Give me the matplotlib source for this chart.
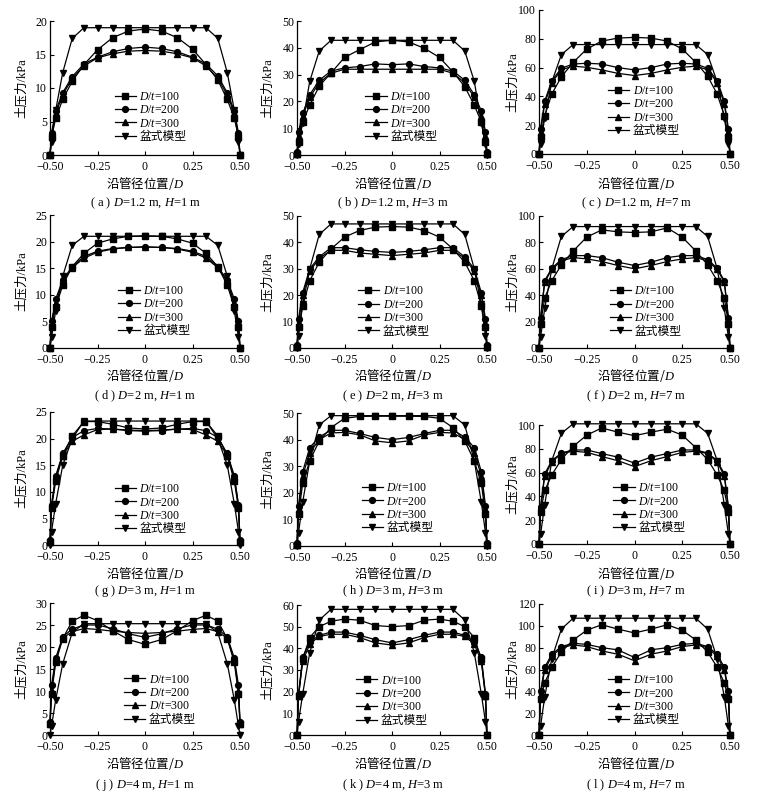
import matplotlib
matplotlib.use("Agg")
import matplotlib.pyplot as plt
import numpy as np

plt.rcParams['font.family'] = ['Liberation Serif', 'Noto Sans CJK SC']
plt.rcParams['mathtext.fontset'] = 'custom'
plt.rcParams['mathtext.rm'] = 'Liberation Serif'
plt.rcParams['mathtext.it'] = 'Liberation Serif:italic'
plt.rcParams['axes.unicode_minus'] = True

# ---------------- data ----------------
X = [-0.5, -0.492, -0.47, -0.433, -0.383, -0.321, -0.25, -0.171, -0.087, 0,
     0.087, 0.171, 0.25, 0.321, 0.383, 0.433, 0.47, 0.492, 0.5]

a100 = [0, 2.7, 5.5, 8.3, 11.0, 13.5, 15.7, 17.5, 18.5, 18.8, 18.5, 17.5, 15.8, 13.5, 11.2, 8.3, 5.5, 2.7, 0]
a200 = [0, 3.3, 6.6, 9.3, 11.7, 13.6, 14.6, 15.4, 15.9, 16.1, 15.9, 15.4, 14.6, 13.6, 11.8, 9.3, 6.6, 3.3, 0]
a300 = [0, 3.0, 6.2, 9.0, 11.4, 13.3, 14.5, 15.1, 15.5, 15.6, 15.5, 15.1, 14.5, 13.3, 11.4, 9.0, 6.2, 3.0, 0]
apen = [0, 2.0, 6.7, 12.3, 17.4, 19, 19, 19, 19, 19, 19, 19, 19, 19, 17.4, 12.3, 6.7, 2.0, 0]

b100 = [0.5, 5, 12.4, 18.6, 25.7, 30.6, 36.4, 39.3, 42.2, 42.8, 42.2, 39.8, 36.4, 31, 25.5, 18.6, 12.4, 5, 0.5]
b200 = [1, 8.7, 15.5, 22.5, 27.9, 31.3, 32.5, 33, 34, 33.7, 34, 33, 32.5, 31.3, 27.9, 22.5, 16.5, 8.7, 1]
b300 = [0.5, 7, 14.5, 21.5, 27, 30.5, 32, 32, 32, 32, 32, 32, 32, 30.5, 27, 21.5, 14.5, 7, 0.5]
bpen = [0, 4, 12, 27.5, 38.8, 42.8, 42.8, 42.8, 42.8, 42.8, 42.8, 42.8, 42.8, 42.8, 38.8, 27.5, 12, 4, 0]

c100 = [0, 12, 26.6, 41.6, 53.6, 63.6, 72.9, 78.4, 80.5, 81, 80.5, 78.4, 72.9, 63.6, 54, 41.6, 26.6, 12, 0]
c200 = [0, 17.5, 36.8, 51, 59.5, 62.5, 63, 62.5, 60, 58.4, 60, 62.5, 63, 62.5, 59.5, 51, 36.8, 17.5, 0]
c300 = [0, 15, 35, 49.5, 58.5, 61, 60.2, 58.4, 56, 54.5, 56, 58.4, 60.2, 61, 58.5, 49.5, 35, 15, 0]
cpen = [0, 7, 25, 50, 69, 76, 76, 76, 76, 76, 76, 76, 76, 76, 69, 50, 25, 7, 0]

d100 = [0, 4, 7.7, 11.8, 15.3, 17.8, 19.7, 20.5, 21, 21.1, 21, 20.5, 19.7, 17.8, 15.3, 11.8, 7.7, 4, 0]
d200 = [0, 5, 9.2, 12.8, 15.3, 17.2, 18.2, 18.7, 18.9, 19.0, 18.9, 18.7, 18.2, 17.2, 15.3, 12.8, 9.2, 5, 0]
d300 = [0, 4.5, 8.5, 12.5, 15.1, 16.9, 18, 18.6, 18.9, 19.0, 18.9, 18.6, 18, 16.9, 15.1, 12.5, 8.5, 4.5, 0]
dpen = [0, 2, 7, 13.5, 19.3, 21, 21, 21, 21, 21, 21, 21, 21, 21, 19.3, 13.5, 7, 2, 0]

e100 = [0.5, 8, 16, 25.5, 32.5, 37.5, 42, 44.5, 45.8, 46, 45.8, 44.5, 42, 37.5, 32.5, 25.5, 16, 8, 0.5]
e200 = [1, 11, 21, 30, 34.5, 38, 38, 37.2, 36.6, 36.2, 36.6, 37.2, 38, 38, 34.5, 30, 21, 11, 1]
e300 = [0.5, 9.5, 20, 29, 34, 37, 37, 36, 35.5, 35, 35.5, 36, 37, 37, 34, 29, 20, 9.5, 0.5]
epen = [0, 4.5, 16.5, 30, 43, 47, 47, 47, 47, 47, 47, 47, 47, 47, 43, 30, 16.5, 4.5, 0]

f100 = [0, 18, 38, 51, 63, 73.5, 84, 89.5, 88, 87.5, 88, 91, 84, 73.5, 63, 51, 38, 18, 0]
f200 = [0, 23, 51, 60.5, 67, 70, 70, 68.5, 65, 62.5, 65, 68.5, 70, 70, 67, 60.5, 51, 23, 0]
f300 = [0, 21, 50, 59.5, 66, 68.5, 67.5, 65.5, 62.5, 60, 62.5, 65.5, 67.5, 68.5, 66, 59.5, 50, 21, 0]
fpen = [0, 8, 30, 60, 84.5, 92, 92, 92, 92, 92, 92, 92, 92, 92, 84.5, 60, 30, 8, 0]

g100 = [0.5, 7, 12, 16.8, 20.5, 23.2, 23.2, 22.7, 22, 21.8, 22, 22.7, 23.2, 23.2, 20.5, 16.8, 12, 7, 0.5]
g200 = [1, 7.5, 13, 17.2, 20.2, 21.5, 21.9, 21.8, 21.5, 21.4, 21.5, 21.8, 21.9, 21.5, 20.2, 17.2, 13, 7.5, 1]
g300 = [0.5, 7.5, 12.8, 16.8, 19.5, 20.7, 21.7, 21.8, 21.6, 21.5, 21.6, 21.8, 21.7, 20.7, 19.5, 16.8, 12.8, 7.5, 0.5]
gpen = [0, 2.5, 7.8, 15, 20, 23.3, 23.3, 23.3, 23.3, 23.3, 23.3, 23.3, 23.3, 23.3, 20, 15, 7.8, 2.5, 0]

h100 = [0.5, 12, 23.5, 32, 39.5, 44.5, 48, 48.7, 48.8, 48.8, 48.8, 48.7, 48, 44.5, 39.5, 32, 23.5, 12, 0.5]
h200 = [1, 15, 28, 37, 41, 43.5, 43.5, 42.3, 40.8, 40, 40.8, 42.3, 43.5, 43.5, 41, 37, 28, 15, 1]
h300 = [0.5, 14, 26.5, 35, 40, 42.5, 42.7, 41.8, 39.5, 38.8, 39.5, 41.8, 42.7, 42.5, 40, 35, 26.5, 14, 0.5]
hpen = [0, 5, 16.5, 32, 45.5, 49, 49, 49, 49, 49, 49, 49, 49, 49, 45.5, 32, 16.5, 5, 0]

i100 = [0, 27, 45, 58, 71, 82, 91.5, 97.5, 94, 91, 94, 96.5, 91.5, 81, 71, 58, 45, 27, 0]
i200 = [0, 31, 59, 70, 76.5, 79, 79, 76, 73, 68, 73, 76, 79, 79, 76.5, 70, 59, 31, 0]
i300 = [0, 30, 57, 69, 76, 78, 77, 73.5, 70, 65, 70, 73.5, 77, 78, 76, 69, 57, 30, 0]
ipen = [0, 8, 33, 70, 93, 101, 101, 101, 101, 101, 101, 101, 101, 101, 93, 70, 33, 8, 0]

j100 = [2.5, 9.4, 16.5, 21.9, 25.9, 27.2, 26, 23.7, 21.7, 20.6, 21.7, 23.7, 26, 27.2, 25.9, 21.9, 16.5, 9.4, 2.5]
j200 = [3, 11.3, 17.5, 22.3, 24.1, 25, 25, 24.2, 23, 22.2, 23, 24.2, 25, 25, 24.1, 22.3, 17.5, 11.3, 3]
j300 = [2.5, 10, 17, 22, 23.5, 24.2, 24, 23.6, 23.3, 23.1, 23.3, 23.6, 24, 24.2, 23.5, 22, 17, 10, 2.5]
jpen = [0, 2, 8, 16.2, 23.3, 25.3, 25.3, 25.3, 25.3, 25.3, 25.3, 25.3, 25.3, 25.3, 23.3, 16.2, 8, 2, 0]

k100 = [0, 18, 35, 45, 50, 52.5, 53.5, 53, 50.5, 50, 50.5, 53, 53.5, 52.5, 50, 45, 35, 18, 0]
k200 = [0, 19, 36, 43, 46, 47.5, 47.5, 46, 44, 42.5, 44, 46, 47.5, 47.5, 46, 43, 36, 19, 0]
k300 = [0, 18, 34, 42, 45.5, 46.5, 46.5, 45, 42.5, 41.5, 42.5, 45, 46.5, 46.5, 45.5, 42, 34, 18, 0]
kpen = [0, 6, 19, 38, 53, 58, 58, 58, 58, 58, 58, 58, 58, 58, 53, 38, 19, 6, 0]

l100 = [0, 33, 48, 62, 76, 87, 96, 101, 97, 93.5, 97, 101, 96, 87, 76, 62, 48, 33, 0]
l200 = [0, 40, 62, 74, 81, 84, 83, 80, 78, 71, 78, 80, 83, 84, 81, 74, 62, 40, 0]
l300 = [0, 37, 60, 72, 80, 82.5, 81, 77, 74, 68, 74, 77, 81, 82.5, 80, 72, 60, 37, 0]
lpen = [0, 8, 35, 70, 97, 107, 107, 107, 107, 107, 107, 107, 107, 107, 97, 70, 35, 8, 0]

LETTERS = ['a', 'b', 'c', 'd', 'e', 'f', 'g', 'h', 'i', 'j', 'k', 'l']
D_VALS = ['1.2', '1.2', '1.2', '2', '2', '2', '3', '3', '3', '4', '4', '4']
H_VALS = ['1', '3', '7', '1', '3', '7', '1', '3', '7', '1', '3', '7']
Y_MAX = [20, 50, 100, 25, 50, 100, 25, 50, 100, 30, 60, 120]
Y_STEP = [5, 10, 20, 5, 10, 20, 5, 10, 20, 5, 10, 20]
SERIES = [
    (a100, a200, a300, apen), (b100, b200, b300, bpen), (c100, c200, c300, cpen),
    (d100, d200, d300, dpen), (e100, e200, e300, epen), (f100, f200, f300, fpen),
    (g100, g200, g300, gpen), (h100, h200, h300, hpen), (i100, i200, i300, ipen),
    (j100, j200, j300, jpen), (k100, k200, k300, kpen), (l100, l200, l300, lpen),
]
LABELS = [r'$\mathit{D/t}$=100', r'$\mathit{D/t}$=200', r'$\mathit{D/t}$=300', '盆式模型']
X_TICKS = [-0.5, -0.25, 0, 0.25, 0.5]
X_TICKLABELS = ['\u22120.50', '\u22120.25', '0', '0.25', '0.50']

# ---------------- layout (pixels) ----------------
W, H = 762, 794
BOXES = [
    (50, 21, 240, 155), (297, 21, 487, 155), (539, 10, 730, 154),
    (50, 215, 240, 348), (297, 216, 487, 348), (539, 216, 730, 348),
    (50, 412, 240, 545), (297, 413, 487, 546), (539, 425, 730, 544),
    (50, 603, 240, 735), (297, 605, 487, 735), (539, 604, 730, 735),
]
LEG_POS = [
    (0.34, 0.48), (0.36, 0.48), (0.36, 0.48),
    (0.36, 0.475), (0.32, 0.475), (0.37, 0.475),
    (0.34, 0.465), (0.34, 0.48), (0.39, 0.52),
    (0.39, 0.465), (0.31, 0.465), (0.36, 0.465),
]
XLABEL_Y = [184, 376, 573, 764]
CAP_Y = [203, 396, 591, 785]
COL_CX = [145, 393, 636]
YLAB_X = [22, 268, 513]

MARKERS = ['s', 'o', '^', 'v']

fig = plt.figure(figsize=(W / 100, H / 100), dpi=100)

for idx in range(12):
    l, t, r, b = BOXES[idx]
    ax = fig.add_axes([l / W, 1 - b / H, (r - l) / W, (b - t) / H])
    for s, m, lab in zip(SERIES[idx], MARKERS, LABELS):
        ax.plot(X, s, color='black', lw=0.9, marker=m, ms=4.2, label=lab,
                clip_on=False, zorder=3)
    ax.set_xlim(-0.5, 0.5)
    ax.set_ylim(0, Y_MAX[idx])
    ax.set_xticks(X_TICKS)
    ax.set_xticklabels(X_TICKLABELS)
    yt = list(range(0, Y_MAX[idx] + 1, Y_STEP[idx]))
    ax.set_yticks(yt)
    ax.set_yticklabels([str(v) for v in yt])
    for sp in ['top', 'right']:
        ax.spines[sp].set_visible(False)
    for sp in ['left', 'bottom']:
        ax.spines[sp].set_linewidth(0.9)
    ax.tick_params(direction='in', length=3, width=0.8, labelsize=8.5)
    ax.tick_params(axis='x', pad=4.5)
    ax.tick_params(axis='y', pad=2)
    ax.legend(loc='upper left', bbox_to_anchor=LEG_POS[idx], frameon=False,
              fontsize=8.5, handlelength=1.8, handletextpad=0.3,
              labelspacing=0.12, borderpad=0, borderaxespad=0)

    row, col = divmod(idx, 3)
    cy = (t + b) / 2
    fig.text(YLAB_X[col] / W, 1 - cy / H, '土压力/kPa', rotation=90,
             ha='center', va='center', fontsize=9)
    fig.text(COL_CX[col] / W, 1 - XLABEL_Y[row] / H, r'沿管径位置/$\mathit{D}$',
             ha='center', va='center', fontsize=9, family='Noto Sans CJK SC')
    cap = '( ' + LETTERS[idx] + ' ) ' + r'$\mathit{D}$=' + D_VALS[idx] + \
          r' m, $\mathit{H}$=' + H_VALS[idx] + ' m'
    fig.text(COL_CX[col] / W, 1 - CAP_Y[row] / H, cap, ha='center', va='center',
             fontsize=9, family='Liberation Serif')

fig.savefig('out.png', dpi=100)
